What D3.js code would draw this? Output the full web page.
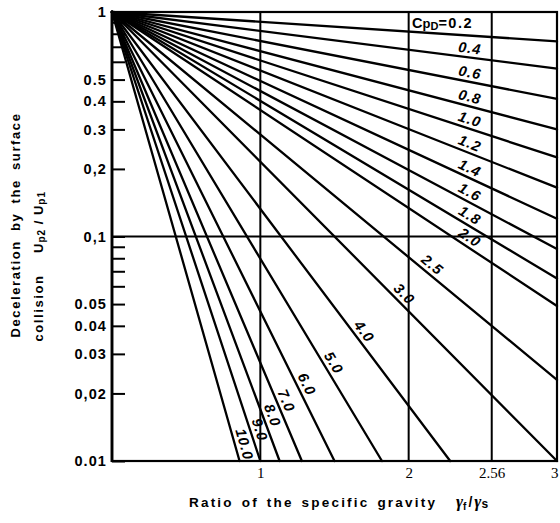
<!DOCTYPE html>
<html>
<head>
<meta charset="utf-8">
<script src="https://cdn.jsdelivr.net/npm/d3@7"></script>
<style>
  body { margin: 0; background: #fff; }
  svg { display: block; }
</style>
</head>
<body>
<svg id="chart" width="560" height="523"></svg>
<script>
// Drag coefficient CpD of each curve
const cpdValues = [0.2, 0.4, 0.6, 0.8, 1.0, 1.2, 1.4, 1.6, 1.8, 2.0, 2.5, 3.0, 4.0, 5.0, 6.0, 7.0, 8.0, 9.0, 10.0];
const cpdLabels = ["0.2", "0.4", "0.6", "0.8", "1.0", "1.2", "1.4", "1.6", "1.8", "2.0", "2.5", "3.0", "4.0", "5.0", "6.0", "7.0", "8.0", "9.0", "10.0"];
// Every curve starts at ratio 0 with Up2/Up1 = 1 and runs straight (semi-log) to these end points
const startRatio = 0;
const startDecel = 1;
const endRatio = [3, 3, 3, 3, 3, 3, 3, 3, 3, 3, 3, 3, 2.28, 1.82, 1.5, 1.28, 1.13, 1.0, 0.86];
const endDecel = [0.74, 0.56, 0.41, 0.30, 0.225, 0.165, 0.12, 0.088, 0.065, 0.049, 0.023, 0.01, 0.01, 0.01, 0.01, 0.01, 0.01, 0.01, 0.01];
// Axes
const xDomain = [0, 3];
const yDomain = [0.01, 1];
const xGridValues = [1, 2, 2.56];
const yGridValues = [0.1];
const xTickValues = [1, 2, 2.56, 3];
const xTickLabels = ["1", "2", "2.56", "3"];
const yTickValues = [1, 0.5, 0.4, 0.3, 0.2, 0.1, 0.05, 0.04, 0.03, 0.02, 0.01];
const yTickLabels = ["1", "0.5", "0.4", "0.3", "0,2", "0,1", "0.05", "0.04", "0.03", "0,02", "0.01"];

const svg = d3.select("#chart");
const plot = { left: 112, right: 557, top: 12, bottom: 461 };

const x = d3.scaleLinear().domain(xDomain).range([plot.left, plot.right]);
const y = d3.scaleLog().domain(yDomain).range([plot.bottom, plot.top]);

const sans = "'Liberation Sans', Arial, Helvetica, sans-serif";
const serif = "'Liberation Serif', 'Times New Roman', serif";

// Grid lines
svg.append("g").selectAll("line").data(xGridValues).join("line")
  .attr("x1", d => x(d)).attr("x2", d => x(d))
  .attr("y1", plot.top).attr("y2", plot.bottom)
  .attr("stroke", "#000").attr("stroke-width", 2);
svg.append("g").selectAll("line").data(yGridValues).join("line")
  .attr("x1", plot.left).attr("x2", plot.right)
  .attr("y1", d => y(d)).attr("y2", d => y(d))
  .attr("stroke", "#000").attr("stroke-width", 2);

// Y axis: inward ticks at every log step, labels at the main values
const labelOf = new Map(yTickValues.map((v, i) => [v, yTickLabels[i]]));
const yAxis = d3.axisLeft(y)
  .tickValues(y.ticks())
  .tickSize(-13)
  .tickPadding(5)
  .tickFormat(d => {
    for (const [v, s] of labelOf) if (Math.abs(v - d) < 1e-9) return s;
    return "";
  });
const gy = svg.append("g").attr("transform", `translate(${plot.left},0)`).call(yAxis);
gy.select(".domain").remove();
gy.selectAll(".tick line").attr("stroke", "#000").attr("stroke-width", 2);
gy.selectAll(".tick text")
  .attr("font-family", sans).attr("font-weight", "bold").attr("font-size", 14.5)
  .attr("letter-spacing", 1.1).attr("fill", "#000");

// X axis labels
const xAxis = d3.axisBottom(x).tickValues(xTickValues).tickSize(0).tickPadding(6)
  .tickFormat((d, i) => xTickLabels[i]);
const gx = svg.append("g").attr("transform", `translate(0,${plot.bottom})`).call(xAxis);
gx.select(".domain").remove();
gx.selectAll(".tick text")
  .attr("font-family", serif).attr("font-size", 15).attr("fill", "#000")
  .attr("text-anchor", (d, i) => i === xTickValues.length - 1 ? "end" : "middle")
  .attr("dx", (d, i) => i === xTickValues.length - 1 ? 1 : 0);

// Frame
svg.append("rect")
  .attr("x", plot.left).attr("y", plot.top)
  .attr("width", plot.right - plot.left).attr("height", plot.bottom - plot.top)
  .attr("fill", "none").attr("stroke", "#000").attr("stroke-width", 2.2);
svg.append("line")
  .attr("x1", plot.left).attr("x2", plot.left)
  .attr("y1", plot.top).attr("y2", plot.bottom + 1)
  .attr("stroke", "#000").attr("stroke-width", 2.8);

// Curves
const curves = cpdValues.map((c, i) => ({
  cpd: c,
  label: cpdLabels[i],
  pts: [[startRatio, startDecel], [endRatio[i], endDecel[i]]]
}));
const line = d3.line().x(d => x(d[0])).y(d => y(d[1]));
svg.append("g").selectAll("path").data(curves).join("path")
  .attr("d", d => line(d.pts))
  .attr("fill", "none").attr("stroke", "#000").attr("stroke-width", 2.3)
  .attr("stroke-linecap", "round");

// Curve labels, set along each line on its upper-right side
const labelColumnX = 470;      // shallow curves are labelled in one column
const labelOffset = 9.5;       // distance from the line
const steepLabelDist = [408, 406, 407, 415, 420, 426, 434, 443, 452]; // along-line distance for 2.5 ... 10.0
const labels = svg.append("g");
curves.forEach((c, i) => {
  const x0 = x(c.pts[0][0]), y0 = y(c.pts[0][1]);
  const x1 = x(c.pts[1][0]), y1 = y(c.pts[1][1]);
  const len = Math.hypot(x1 - x0, y1 - y0);
  const ux = (x1 - x0) / len, uy = (y1 - y0) / len;
  const nx = uy, ny = -ux;   // normal pointing up/right
  const ang = Math.atan2(y1 - y0, x1 - x0) * 180 / Math.PI;
  if (i === 0) {
    const t = labels.append("text")
      .attr("x", 412).attr("y", 28)
      .attr("font-family", sans).attr("font-weight", "bold").attr("font-size", 14.5)
      .attr("fill", "#000");
    t.append("tspan").text("C");
    t.append("tspan").attr("font-size", 13).text("p");
    t.append("tspan").attr("font-size", 11).attr("dy", 2).text("D");
    t.append("tspan").attr("dy", -2).attr("letter-spacing", 1.5).text("=" + c.label);
    return;
  }
  let bx, by;
  if (i <= 9) {
    bx = labelColumnX - nx * labelOffset;
    by = y0 + (bx - x0) * uy / ux;
  } else {
    const d = steepLabelDist[i - 10];
    bx = x0 + ux * d; by = y0 + uy * d;
  }
  const cx = bx + nx * labelOffset, cy = by + ny * labelOffset;
  labels.append("text")
    .attr("transform", `translate(${cx},${cy}) rotate(${ang})`)
    .attr("text-anchor", "middle").attr("dy", "0.36em")
    .attr("font-family", sans).attr("font-weight", "bold").attr("font-style", "italic")
    .attr("font-size", 14.5).attr("letter-spacing", 1)
    .attr("fill", "#000")
    .text(c.label);
});

// Y title (two rotated lines)
const yt = svg.append("g").attr("font-family", sans).attr("font-weight", "bold")
  .attr("font-size", 13).attr("fill", "#000");
yt.append("text")
  .attr("transform", "translate(20,225) rotate(-90)")
  .attr("text-anchor", "middle").attr("letter-spacing", 1.6).attr("word-spacing", 4)
  .text("Deceleration by the surface");
yt.append("text")
  .attr("transform", "translate(43,308) rotate(-90)")
  .attr("text-anchor", "middle").attr("letter-spacing", 1.6)
  .text("collision");
const up = yt.append("text")
  .attr("transform", "translate(43,222) rotate(-90)")
  .attr("text-anchor", "middle").attr("letter-spacing", 1);
up.append("tspan").text("U");
up.append("tspan").attr("font-size", 10).attr("dy", 2).text("p2");
up.append("tspan").attr("dy", -2).text(" / U");
up.append("tspan").attr("font-size", 10).attr("dy", 2).text("p1");

// X title
const xt = svg.append("text").attr("x", 189).attr("y", 507)
  .attr("font-family", sans).attr("font-weight", "bold").attr("font-size", 13.5)
  .attr("fill", "#000");
xt.append("tspan").attr("letter-spacing", 2.2).attr("word-spacing", 2).text("Ratio of  the specific gravity");
xt.append("tspan").attr("x", 456).attr("font-family", serif).attr("font-style", "italic").attr("font-size", 17).text("γ");
xt.append("tspan").attr("font-size", 10).attr("dy", 3).text("f");
xt.append("tspan").attr("dy", -3).attr("dx", 2).attr("font-size", 14).text("/");
xt.append("tspan").attr("dx", 2).attr("font-family", serif).attr("font-style", "italic").attr("font-size", 17).text("γ");
xt.append("tspan").attr("font-size", 12).attr("dy", 1).text("s");
</script>
</body>
</html>
